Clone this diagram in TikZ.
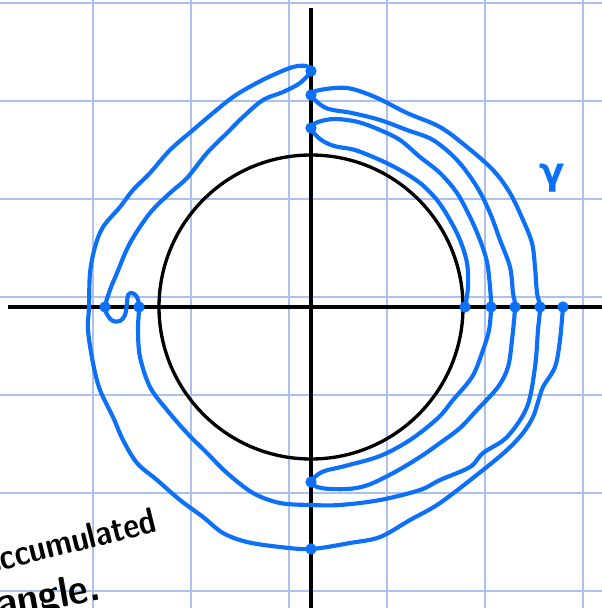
\documentclass[tikz,border=0pt]{standalone}
\usepackage{tikz}
\usepackage{graphicx}
\usepackage{fontspec}
\newfontfamily\gfont{DejaVu Sans}
\definecolor{gridc}{RGB}{172,194,236}
\definecolor{pen}{RGB}{12,112,248}
\begin{document}
\begin{tikzpicture}[x=0.75pt,y=-0.75pt,
  gridline/.style={gridc, line width=0.9pt},
  axis/.style={black, line width=2.5pt},
  curve/.style={pen, line width=3.1pt, line cap=round, line join=round},
  dot/.style={circle, fill=pen, inner sep=0pt, minimum size=8.5pt},
  hand/.style={font=\sffamily\bfseries, inner sep=0pt}]
\useasboundingbox (0,0) rectangle (602,608);
\fill[white] (0,0) rectangle (602,608);
% grid
\foreach \gx in {93,191,289,387,485,583} \draw[gridline] (\gx,0) -- (\gx,608);
\foreach \gy in {3,101,199,297,395,493,591} \draw[gridline] (0,\gy) -- (602,\gy);
% axes and unit circle
\coordinate (xl) at (8,307); \coordinate (xr) at (602,307);
\coordinate (yt) at (311,8);  \coordinate (yb) at (311,608);
\coordinate (O) at (311,307);
\draw[axis] (xl) -- (xr);
\draw[axis] (yt) -- (yb);
\draw[axis] (O) circle (152);
% crossing points
\node[dot] (r1) at (465,307) {};
\node[dot] (r2) at (491,307) {};
\node[dot] (r3) at (515,307) {};
\node[dot] (r4) at (540,307) {};
\node[dot] (r5) at (563,307) {};
\node[dot] (t1) at (311,71) {};
\node[dot] (t2) at (311,95) {};
\node[dot] (t3) at (311,128) {};
\node[dot] (b1) at (311,482) {};
\node[dot] (b2) at (311,549) {};
\node[dot] (l1) at (105,307) {};
\node[dot] (l2) at (139,307) {};
% the path gamma
\draw[curve] plot[smooth, tension=0.55] coordinates {
  (r1) (468,287) (467,263) (460,240) (450,220) (437,200) (420,183) (400,170) (380,160) (355,150) (334,146) (320,139) (t3)
  (318,122) (335,119) (358,122) (380,130) (400,140) (420,157) (440,173) (457,193) (470,217) (480,240) (487,262) (490,287) (r2)
  (489,330) (482,353) (472,377) (453,400) (438,418) (410,440) (380,456) (345,466) (322,472) (b1)
  (321,488) (347,489) (368,485) (395,472) (420,457) (440,443) (460,428) (477,410) (498,387) (508,367) (512,340) (r3)
  (513,293) (510,267) (500,240) (490,213) (477,187) (457,160) (433,140) (407,130) (380,120) (352,113) (326,108) (t2)
  (320,90) (347,88) (375,97) (407,113) (440,127) (467,147) (493,170) (510,193) (523,220) (532,243) (535,267) (537,293) (r4)
  (538,330) (535,367) (527,407) (507,437) (483,453) (470,467) (440,480) (420,490) (380,500) (340,505) (311,505)
  (280,503) (253,493) (227,473) (207,453) (187,433) (167,410) (150,387) (140,357) (138,330) (l2)
  (137,297) (132,293) (128,295) (127,303) (125,315) (120,321) (113,321) (108,316) (l1)
  (110,290) (117,273) (130,243) (150,213) (170,193) (187,178) (207,153) (227,133) (243,117) (263,100) (283,92) (300,83) (t1)
  (306,66) (293,67) (273,75) (253,85) (233,97) (213,113) (193,130) (170,150) (150,173) (133,190) (120,207) (103,227) (95,247) (90,273) (89,307)
  (88,330) (93,363) (100,390) (113,417) (123,440) (137,463) (157,480) (180,500) (203,517) (223,533) (247,542) (280,547) (b2)
  (350,543) (380,537) (410,520) (440,503) (483,470) (507,450) (523,433) (533,417) (538,402) (543,387) (555,367) (560,340) (r5)
};
% labels
\node[pen, font=\gfont\bfseries\fontsize{28}{28}\selectfont, inner sep=0pt] (gam) at (552,178) {γ};
\node[hand, anchor=base west, rotate=14] (acc) at (-13,574)
  {\fontsize{27}{30}\selectfont\scalebox{0.85}[1]{accumulated}};
\node[hand, anchor=base west, rotate=10] (ang) at (-1,618)
  {\fontsize{32}{36}\selectfont\scalebox{0.9}[1]{angle.}};
\end{tikzpicture}
\end{document}
